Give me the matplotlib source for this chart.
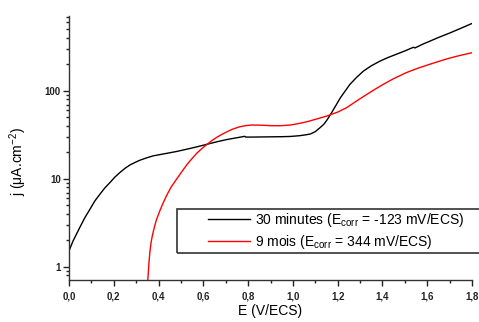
import matplotlib
matplotlib.use("Agg")
import matplotlib.pyplot as plt
from matplotlib.patches import Rectangle
from matplotlib.ticker import FuncFormatter, MultipleLocator, LogLocator, NullFormatter

plt.rcParams["font.family"] = ["Liberation Sans", "DejaVu Sans"]
plt.rcParams["mathtext.fontset"] = "custom"
plt.rcParams["mathtext.rm"] = "Liberation Sans"

# 30 minutes (black)
E_30min = [0.00, 0.018, 0.048, 0.07, 0.093, 0.115, 0.138, 0.16, 0.183, 0.205, 0.227,
           0.25, 0.272, 0.295, 0.316, 0.345, 0.376, 0.43, 0.48, 0.52, 0.557, 0.587,
           0.62, 0.662, 0.71, 0.76, 0.785, 0.79, 0.82, 0.86, 0.90, 0.95, 0.989,
           1.03, 1.06, 1.078, 1.10, 1.12, 1.138, 1.153, 1.168, 1.19, 1.212, 1.235,
           1.255, 1.285, 1.316, 1.35, 1.39, 1.425, 1.465, 1.50, 1.539, 1.545, 1.58,
           1.614, 1.65, 1.70, 1.75, 1.80]
j_30min = [1.52, 1.97, 2.8, 3.6, 4.5, 5.6, 6.7, 7.9, 9.1, 10.5, 11.8,
           13.2, 14.4, 15.4, 16.3, 17.3, 18.3, 19.4, 20.5, 21.6, 22.7, 23.7,
           24.9, 26.5, 28.2, 29.7, 30.5, 29.9, 29.9, 30.0, 30.1, 30.2, 30.4,
           31.0, 31.8, 32.4, 34.5, 38.0, 41.8, 47.0, 54.0, 67.0, 83.6, 101.0,
           119.0, 143.0, 169.0, 193.0, 219.0, 240.0, 263.0, 285.0, 314.0, 308.0, 340.0,
           370.0, 405.0, 455.0, 515.0, 585.0]

# 9 mois (red)
E_9mois = [0.350, 0.352, 0.354, 0.357, 0.361, 0.366, 0.372, 0.38, 0.39, 0.405,
           0.42, 0.435, 0.455, 0.48, 0.505, 0.528, 0.55, 0.57, 0.595, 0.617, 0.64,
           0.66, 0.68, 0.707, 0.73, 0.76, 0.79, 0.82, 0.86, 0.90, 0.94, 0.989, 1.03,
           1.07, 1.11, 1.153, 1.20, 1.24, 1.285, 1.32, 1.36, 1.404, 1.45, 1.508,
           1.56, 1.614, 1.65, 1.689, 1.74, 1.80]
j_9mois = [0.6, 0.71, 0.85, 1.1, 1.45, 1.85, 2.25, 2.75, 3.4, 4.3,
           5.3, 6.4, 8.0, 9.9, 12.2, 14.7, 17.1, 19.5, 22.3, 24.8, 27.5,
           29.7, 31.8, 34.5, 36.7, 39.0, 40.4, 41.0, 40.8, 40.3, 40.2, 41.0, 42.8,
           45.2, 48.3, 52.0, 57.5, 64.5, 77.0, 88.0, 102.0, 119.0, 138.0, 162.0,
           182.0, 202.0, 216.0, 232.0, 251.0, 272.0]

labels = [r"30 minutes (E$_{\mathregular{corr}}$ = -123 mV/ECS)",
          r"9 mois (E$_{\mathregular{corr}}$ = 344 mV/ECS)"]

fig = plt.figure(figsize=(4.79, 3.22), dpi=100)
ax = fig.add_axes([69/479, 1-280/322, 403/479, 264/322])

l1, = ax.plot(E_30min, j_30min, color="black", lw=1.0)
l2, = ax.plot(E_9mois, j_9mois, color="#FF0000", lw=1.0)

ax.set_yscale("log")
ax.set_xlim(0, 1.8)
ax.set_ylim(0.71, 711)

ax.xaxis.set_major_locator(MultipleLocator(0.2))
ax.xaxis.set_minor_locator(MultipleLocator(0.1))
ax.xaxis.set_major_formatter(FuncFormatter(lambda v, p: f"{v:.1f}".replace(".", ",")))
ax.yaxis.set_major_locator(LogLocator(base=10))
ax.yaxis.set_minor_locator(LogLocator(base=10, subs=range(2, 10)))
ax.yaxis.set_minor_formatter(NullFormatter())
ax.yaxis.set_major_formatter(FuncFormatter(lambda v, p: f"{v:g}"))

for sp in ["top", "right"]:
    ax.spines[sp].set_visible(False)
for sp in ["left", "bottom"]:
    ax.spines[sp].set_color("#333333")
    ax.spines[sp].set_linewidth(1.0)

ax.tick_params(which="major", direction="out", length=4, width=1.0, colors="#222222",
               labelsize=7)
ax.tick_params(which="minor", direction="out", length=2.5, width=1.0, colors="#222222")
ax.tick_params(axis="x", pad=4)
ax.tick_params(axis="y", pad=2)
for t in ax.get_xticklabels() + ax.get_yticklabels():
    t.set_fontweight("bold")

ax.set_xlabel("E (V/ECS)", fontsize=10)
ax.xaxis.set_label_coords(0.5, -0.09)
ax.set_ylabel(r"j ($\mathregular{\mu}$A.cm$^{\mathregular{-2}}$)", fontsize=10)
ax.yaxis.set_label_coords(-0.1, 0.45)

# legend frame
ax.add_patch(Rectangle((0.268, 0.102), 0.76, 0.167, transform=ax.transAxes,
                       fill=False, edgecolor="#333333", lw=1.2, clip_on=False, zorder=5))
ax.legend([l1, l2], labels, frameon=False, loc="upper left",
          bbox_to_anchor=(0.345, 0.262), borderpad=0, borderaxespad=0,
          fontsize=10, handlelength=3.0, handletextpad=0.35, labelspacing=0.3)

fig.savefig("out.png", dpi=100, facecolor="white")
